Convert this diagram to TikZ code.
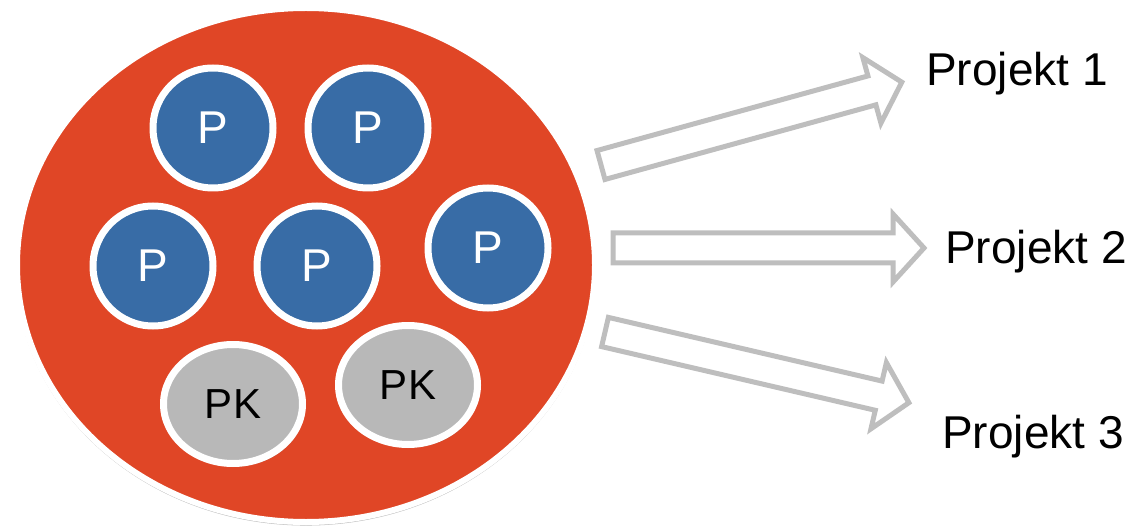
\documentclass[tikz,border=0pt]{standalone}
\usepackage{fontspec}
\setmainfont{Liberation Sans}
\usetikzlibrary{shapes.geometric,shadows}
\definecolor{bigred}{HTML}{E04626}
\definecolor{pblue}{HTML}{386CA6}
\definecolor{pkgray}{HTML}{B8B8B8}
\definecolor{arrowgray}{HTML}{BEBEBE}
\tikzset{
  bigpool/.style={ellipse, draw=white, line width=6pt, fill=bigred,
    minimum width=578pt, minimum height=514pt, inner sep=0pt,
    drop shadow={shadow xshift=0pt, shadow yshift=-2pt, opacity=0.25, fill=black, shadow scale=1.006}},
  pnode/.style={ellipse, draw=white, line width=7pt, fill=pblue,
    minimum width=120pt, minimum height=120pt, inner sep=0pt, text=white,
    font=\fontsize{46}{50}\selectfont,
    drop shadow={shadow xshift=2pt, shadow yshift=-3pt, opacity=0.35, fill=black!80}},
  pknode/.style={ellipse, draw=white, line width=7pt, fill=pkgray,
    minimum width=139pt, minimum height=119pt, inner sep=0pt, text=black,
    font=\fontsize{42}{46}\selectfont,
    drop shadow={shadow xshift=2pt, shadow yshift=-3pt, opacity=0.35, fill=black!80}},
  blockarrow/.style={draw=arrowgray, line width=5pt, fill=white, line join=miter},
  label/.style={anchor=base west, inner sep=0pt, font=\fontsize{46}{50}\selectfont, text=black}
}
\begin{document}
\begin{tikzpicture}[x=1pt,y=-1pt]
\useasboundingbox (0,0) rectangle (1137,529);

\node[bigpool] (pool) at (306,265) {};

\node[pnode] (p1) at (213,128) {P};
\node[pnode] (p2) at (368,128) {P};
\node[pnode] (p3) at (153,266) {P};
\node[pnode] (p4) at (317,266) {P};
\node[pnode] (p5) at (488,248) {P};
\node[pknode] (pk1) at (233,404) {PK};
\node[pknode] (pk2) at (408,385) {PK};

% block arrows: tail centre, rotation; length, shaft half 15, head half 34, head length 31
\coordinate (t1) at (601,165);
\coordinate (t2) at (613,248);
\coordinate (t3) at (605,332);
\foreach \t/\ang/\len in {t1/15.4/312, t2/0/311, t3/-13.1/312}{
  \begin{scope}[shift={(\t)}, rotate=\ang]
    \draw[blockarrow] (0,-15) -- ({\len-31},-15) -- ({\len-31},-34) -- (\len,0)
      -- ({\len-31},34) -- ({\len-31},15) -- (0,15) -- cycle;
  \end{scope}
}

\node[label] (l1) at (926,86) {Projekt 1};
\node[label] (l2) at (945,263) {Projekt 2};
\node[label] (l3) at (942,448) {Projekt 3};
\end{tikzpicture}
\end{document}
